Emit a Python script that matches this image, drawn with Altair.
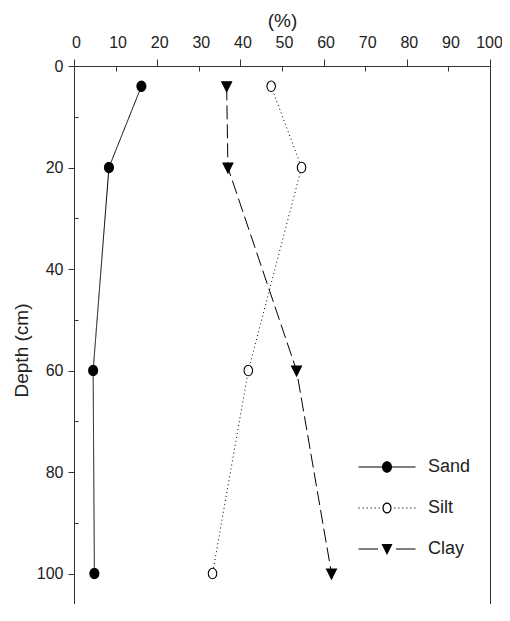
import altair as alt
import pandas as pd

# ---- data ----
series = ["Sand", "Silt", "Clay"]
depth = [4, 20, 60, 100]
sand = [16.2, 8.4, 4.6, 4.9]
silt = [47.4, 54.7, 41.9, 33.3]
clay = [36.7, 37.0, 53.5, 61.9]

x_labels = [0, 10, 20, 30, 40, 50, 60, 70, 80, 90, 100]
x_major = [0, 20, 40, 60, 80, 100]
x_minor = [10, 30, 50, 70, 90]
y_major = [0, 20, 40, 60, 80, 100]
y_minor = [10, 30, 50, 70, 90]

rows = []
for name, vals in zip(series, [sand, silt, clay]):
    for d, v in zip(depth, vals):
        rows.append({"Series": name, "Depth": d, "Percent": v})
df = pd.DataFrame(rows)

FONT = "Liberation Sans"
INK = "#222222"

# ---- marker geometry (symbol paths) ----
sand_pt = "M-0.9,0A0.9,1.05 0 1,1 0.9,0A0.9,1.05 0 1,1 -0.9,0Z"
silt_pt = "M-0.85,0A0.85,1.05 0 1,1 0.85,0A0.85,1.05 0 1,1 -0.85,0Z"
clay_pt = "M-1,-0.9L1,-0.9L0,1.1Z"

# legend glyphs are drawn with fill only (line segments as thin bars)
def bar(a, b, h=0.1):
    return "M%.2f,%.2fL%.2f,%.2fL%.2f,%.2fL%.2f,%.2fZ" % (a, -h, b, -h, b, h, a, h)

sand_fill = "M-1,0A1,1.15 0 1,1 1,0A1,1.15 0 1,1 -1,0Z"
silt_ring = (
    "M-0.92,0A0.92,1.1 0 1,1 0.92,0A0.92,1.1 0 1,1 -0.92,0Z"
    "M-0.68,0A0.68,0.86 0 1,0 0.68,0A0.68,0.86 0 1,0 -0.68,0Z"
)
clay_fill = "M-1.1,-1L1.1,-1L0,1.2Z"

dots = ""
for k in range(6):
    a = -5.7 + 0.8 * k
    b = 1.45 + 0.8 * k
    dots += bar(a, a + 0.25)
    dots += bar(b, b + 0.25)

sand_lg = bar(-5.7, 5.7) + sand_fill
silt_lg = dots + silt_ring
clay_lg = bar(-5.7, -1.8) + bar(1.8, 5.7) + clay_fill

xs = alt.Scale(domain=[0, 100], nice=False, zero=False)
ys = alt.Scale(domain=[0, 106], reverse=True, nice=False, zero=False)

lines = alt.Chart(df).mark_line(color="black", strokeWidth=1).encode(
    x=alt.X("Percent:Q", scale=xs,
            axis=alt.Axis(orient="top", values=x_labels, title="(%)",
                          tickSize=7, tickOpacity=0, labelPadding=9,
                          labelFlush=False,
                          labelOffset={"condition": {"test": "datum.value === 100",
                                                     "value": -1},
                                       "value": 2},
                          titleFontSize=19, titlePadding=4, domain=True)),
    y=alt.Y("Depth:Q", scale=ys,
            axis=alt.Axis(orient="left", values=y_major, title="Depth (cm)",
                          tickSize=6, labelPadding=5, titlePadding=5,
                          titleY=284,
                          titleFontSize=19, labelFlush=False, domain=True)),
    detail="Series:N",
    strokeDash=alt.StrokeDash("Series:N",
                              scale=alt.Scale(domain=series,
                                              range=[[1, 0], [1, 3], [14, 5]]),
                              legend=None),
    order="Depth:Q",
)

points = alt.Chart(df).mark_point(stroke="black", strokeWidth=1.1, size=100,
                                  opacity=1).encode(
    x=alt.X("Percent:Q", scale=xs,
            axis=alt.Axis(orient="top", values=x_major, tickSize=7,
                          labels=False, domain=False, title=None)),
    y=alt.Y("Depth:Q", scale=ys,
            axis=alt.Axis(orient="right", ticks=False, labels=False,
                          domain=True, title=None)),
    shape=alt.Shape("Series:N",
                    scale=alt.Scale(domain=series,
                                    range=[sand_pt, silt_pt, clay_pt]),
                    legend=None),
    fill=alt.Fill("Series:N",
                  scale=alt.Scale(domain=series,
                                  range=["black", "white", "black"]),
                  legend=None),
)

legend_layer = alt.Chart(df).transform_filter("false").mark_point(
    filled=True, color="black", size=100, opacity=1).encode(
    x=alt.X("Percent:Q", scale=xs,
            axis=alt.Axis(orient="top", values=x_minor, tickSize=5, offset=-5,
                          labels=False, domain=False, title=None)),
    y=alt.Y("Depth:Q", scale=ys,
            axis=alt.Axis(orient="left", values=y_minor, tickSize=4,
                          offset=-4, labels=False, domain=False, title=None)),
    shape=alt.Shape("Series:N",
                    scale=alt.Scale(domain=series,
                                    range=[sand_lg, silt_lg, clay_lg]),
                    legend=alt.Legend(title=None, orient="none", legendX=304,
                                      legendY=392, labelOffset=32,
                                      rowPadding=23, symbolSize=100,
                                      symbolFillColor="black",
                                      symbolStrokeWidth=0, symbolOpacity=1,
                                      labelFont=FONT, labelFontSize=18,
                                      labelColor=INK, padding=0)),
)

chart = alt.layer(lines, points, legend_layer).resolve_scale(
    shape="independent"
).resolve_axis(
    x="independent", y="independent"
).properties(
    width=416, height=538,
    padding={"left": 66, "top": 58, "right": 12, "bottom": 0},
    autosize=alt.AutoSizeParams(type="none"),
).configure_view(stroke=None).configure_axis(
    grid=False,
    labelFont=FONT, labelFontSize=16, labelColor=INK,
    titleFont=FONT, titleFontSize=16, titleFontWeight="normal",
    titleColor=INK, domainColor="#333333", tickColor="#333333",
    domainWidth=1, tickWidth=1,
)

chart.save("out.html", embed_options={"renderer": "svg", "actions": False})
